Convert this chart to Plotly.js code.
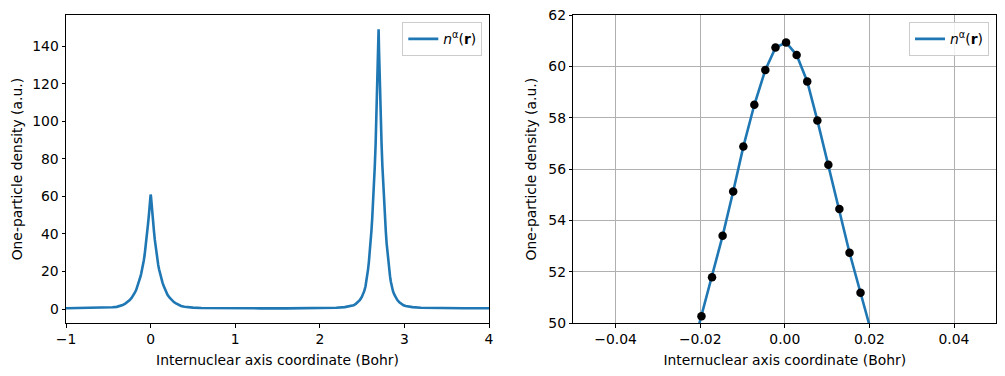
<!DOCTYPE html>
<html>
<head>
<meta charset="utf-8">
<script src="https://cdn.plot.ly/plotly-3.0.1.min.js"></script>
<style>html,body{margin:0;padding:0;background:#fff;}#plot{width:1005px;height:376px;}</style>
</head>
<body>
<div id="plot"></div>
<script>
// Full density profile along the internuclear axis (left panel)
const xFull = [-1.0, -0.8, -0.6, -0.5, -0.45, -0.4, -0.36, -0.33, -0.3, -0.275, -0.25, -0.225, -0.2, -0.185, -0.17, -0.155, -0.14, -0.13, -0.12, -0.11, -0.1, -0.09, -0.08, -0.07, -0.06, -0.05, -0.04, -0.03,
  -0.0197, -0.0172, -0.0147, -0.0122, -0.0098, -0.0072, -0.0046, -0.0022, 0.0003, 0.0028, 0.0053, 0.0077, 0.0103, 0.0129, 0.0153, 0.0179,
  0.03, 0.04, 0.05, 0.06, 0.07, 0.08, 0.09, 0.1, 0.11, 0.12, 0.13, 0.14, 0.155, 0.17, 0.185, 0.2, 0.225, 0.25, 0.275, 0.3, 0.33, 0.36, 0.4, 0.45, 0.5, 0.6, 0.8, 1.0, 1.3, 1.6, 1.9, 2.1,
  2.195, 2.295, 2.345, 2.375, 2.4, 2.425, 2.45, 2.475, 2.495, 2.51, 2.525, 2.54, 2.55, 2.56, 2.57, 2.58, 2.59, 2.6, 2.61, 2.62, 2.63, 2.64, 2.65, 2.66, 2.67, 2.675, 2.68, 2.685, 2.69, 2.695,
  2.7, 2.705, 2.71, 2.715, 2.72, 2.73, 2.74, 2.75, 2.76, 2.77, 2.78, 2.79, 2.8, 2.81, 2.82, 2.83, 2.84, 2.85, 2.865, 2.88, 2.895, 2.915, 2.94, 2.965, 2.99, 3.015, 3.045, 3.095, 3.195, 3.4, 3.7, 4.0];
const nFull = [0.4, 0.45, 0.55, 0.75, 0.9, 1.15, 1.6, 2.1, 2.9, 3.6, 4.6, 5.9, 7.5, 8.8, 10.2, 12, 14, 15.5, 17.2, 19, 21, 23.3, 26, 29, 32.5, 36.5, 41, 45.5,
  50.26, 51.78, 53.40, 55.13, 56.88, 58.51, 59.87, 60.74, 60.94, 60.45, 59.42, 57.90, 56.17, 54.45, 52.74, 51.18,
  45.8, 41.3, 36.8, 32.8, 29.3, 26.3, 23.5, 21.2, 19.2, 17.4, 15.7, 14.2, 12.2, 10.4, 8.9, 7.6, 6.0, 4.7, 3.7, 3.0, 2.2, 1.6, 1.2, 0.9, 0.75, 0.55, 0.42, 0.38, 0.35, 0.36, 0.42, 0.55,
  0.7, 1.0, 1.3, 1.6, 2.0, 2.7, 3.6, 4.9, 6.3, 7.8, 9.5, 12, 14.5, 17.5, 21, 25, 29.5, 35, 41.5, 48.5, 56, 65, 76, 88, 103, 111, 119, 128, 138, 149,
  138, 128, 119, 111, 103, 88, 76, 65, 56, 48.5, 41.5, 35, 29.5, 25, 21, 17.5, 14.5, 12, 9.5, 7.8, 6.3, 4.9, 3.6, 2.7, 2.0, 1.6, 1.3, 1.0, 0.7, 0.5, 0.42, 0.4];

// Zoom near the first nucleus (right panel)
const xZoom = [-0.0222, -0.0197, -0.0172, -0.0147, -0.0122, -0.0098, -0.0072, -0.0046, -0.0022, 0.0003, 0.0028, 0.0053, 0.0077, 0.0103, 0.0129, 0.0153, 0.0179, 0.0204];
const nZoom = [48.74, 50.26, 51.78, 53.40, 55.13, 56.88, 58.51, 59.87, 60.74, 60.94, 60.45, 59.42, 57.90, 56.17, 54.45, 52.74, 51.18, 49.68];

const seriesName = '<i>n</i><sup>α</sup>(<b>r</b>)';
const xTitle = 'Internuclear axis coordinate (Bohr)';
const yTitle = 'One-particle density (a.u.)';

const FONT = 'DejaVu Sans, sans-serif';
const FS = 13.9;
const blue = '#1f77b4';

const traces = [
  {x: xFull, y: nFull, type: 'scatter', mode: 'lines', name: seriesName,
   line: {color: blue, width: 2.6}, xaxis: 'x', yaxis: 'y', legend: 'legend'},
  {x: xZoom, y: nZoom, type: 'scatter', mode: 'lines', name: seriesName,
   line: {color: blue, width: 2.6}, xaxis: 'x2', yaxis: 'y2', legend: 'legend2'},
  {x: xZoom, y: nZoom, type: 'scatter', mode: 'markers', showlegend: false,
   marker: {color: 'black', size: 8.5}, xaxis: 'x2', yaxis: 'y2'}
];

const axBase = {
  showline: true, linecolor: 'black', linewidth: 1, mirror: true,
  ticks: 'outside', ticklen: 3.5, tickwidth: 1, tickcolor: 'black',
  tickfont: {family: FONT, size: FS, color: 'black'},
  zeroline: false, automargin: false
};

const legBase = {
  bgcolor: 'rgba(255,255,255,0.8)', bordercolor: '#cccccc', borderwidth: 1,
  font: {family: FONT, size: FS, color: 'black'},
  xanchor: 'right', yanchor: 'top', itemwidth: 30
};

const layout = {
  width: 1005, height: 376,
  margin: {l: 0, r: 0, t: 0, b: 0, autoexpand: false},
  paper_bgcolor: 'white', plot_bgcolor: 'white',
  font: {family: FONT, size: FS, color: 'black'},
  xaxis: Object.assign({}, axBase, {
    domain: [66/1005, 489/1005], range: [-1, 4], dtick: 1, tick0: 0, showgrid: false,
    anchor: 'y',
    title: {text: xTitle, font: {family: FONT, size: FS, color: 'black'}, standoff: 9}
  }),
  yaxis: Object.assign({}, axBase, {
    domain: [53/376, 360.7/376], range: [-7.45, 156.4], dtick: 20, tick0: 0, showgrid: false,
    anchor: 'x',
    title: {text: yTitle, font: {family: FONT, size: FS, color: 'black'}, standoff: 6}
  }),
  xaxis2: Object.assign({}, axBase, {
    domain: [573.3/1005, 996.3/1005], range: [-0.05, 0.05], dtick: 0.02, tick0: 0, tickformat: '.2f',
    showgrid: true, gridcolor: '#b0b0b0', gridwidth: 1, anchor: 'y2',
    title: {text: xTitle, font: {family: FONT, size: FS, color: 'black'}, standoff: 9}
  }),
  yaxis2: Object.assign({}, axBase, {
    domain: [53/376, 360.7/376], range: [50, 62], dtick: 2, tick0: 0,
    showgrid: true, gridcolor: '#b0b0b0', gridwidth: 1, anchor: 'x2',
    title: {text: yTitle, font: {family: FONT, size: FS, color: 'black'}, standoff: 8}
  }),
  legend: Object.assign({}, legBase, {x: 482.3/1005, y: 1 - 22.3/376}),
  legend2: Object.assign({}, legBase, {x: 989/1005, y: 1 - 22.3/376}),
  showlegend: true
};

Plotly.newPlot('plot', traces, layout, {displayModeBar: false, staticPlot: true});
</script>
</body>
</html>
